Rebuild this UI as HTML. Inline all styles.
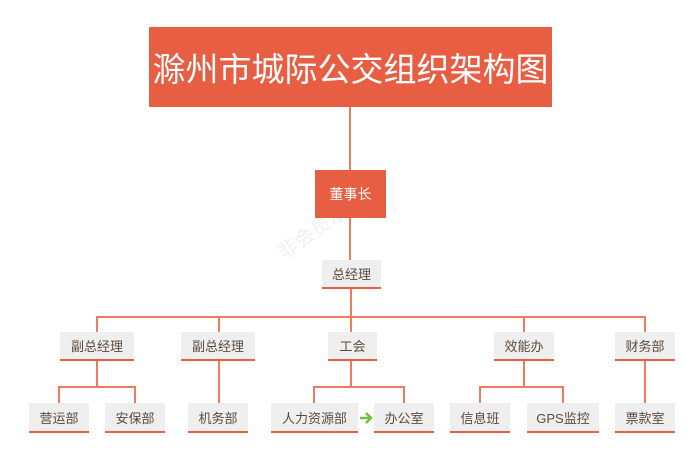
<!DOCTYPE html>
<html><head><meta charset="utf-8"><style>
body{margin:0;width:700px;height:459px;background:#fff;position:relative;overflow:hidden;font-family:"Liberation Sans","Noto Sans CJK SC",sans-serif}
.b{position:absolute;background:#efefef;border-bottom:2px solid #e8603f;color:#5a4a3c;font-size:13px;display:flex;align-items:center;justify-content:center;box-sizing:border-box}
.l{position:absolute;background:#f07a5c}
</style></head><body>
<div style="position:absolute;left:270px;top:210px;color:#f0f0f0;font-size:20px;transform:rotate(-35deg)">非会员水印</div>
<div style="position:absolute;left:149px;top:27px;width:403px;height:80px;background:#e85e42;color:#fff;font-size:33px;display:flex;align-items:center;justify-content:center">滁州市城际公交组织架构图</div>
<div class="l" style="left:349px;top:107px;width:2px;height:63px"></div>
<div style="position:absolute;left:315px;top:170px;width:71px;height:48px;background:#e85e42;color:#fff;font-size:14px;display:flex;align-items:center;justify-content:center">董事长</div>
<div class="l" style="left:349px;top:218px;width:2px;height:42px"></div>
<div class="b" style="left:322px;top:260px;width:59px;height:29px">总经理</div>
<div class="l" style="left:350px;top:289px;width:2px;height:28px"></div>
<div class="l" style="left:97px;top:316px;width:549px;height:2px"></div>
<div class="l" style="left:96px;top:316px;width:2px;height:16px"></div>
<div class="l" style="left:218px;top:316px;width:2px;height:16px"></div>
<div class="l" style="left:350px;top:316px;width:2px;height:16px"></div>
<div class="l" style="left:523px;top:316px;width:2px;height:16px"></div>
<div class="l" style="left:644px;top:316px;width:2px;height:16px"></div>
<div class="b" style="left:60px;top:332px;width:74px;height:29px">副总经理</div>
<div class="b" style="left:181px;top:332px;width:74px;height:29px">副总经理</div>
<div class="b" style="left:328px;top:332px;width:49px;height:29px">工会</div>
<div class="b" style="left:494px;top:332px;width:60px;height:29px">效能办</div>
<div class="b" style="left:615px;top:332px;width:60px;height:29px">财务部</div>
<div class="l" style="left:96px;top:361px;width:2px;height:26px"></div>
<div class="l" style="left:58px;top:386px;width:78px;height:2px"></div>
<div class="l" style="left:58px;top:386px;width:2px;height:17px"></div>
<div class="l" style="left:134px;top:386px;width:2px;height:17px"></div>
<div class="l" style="left:218px;top:361px;width:2px;height:42px"></div>
<div class="l" style="left:350px;top:361px;width:2px;height:26px"></div>
<div class="l" style="left:313px;top:386px;width:92px;height:2px"></div>
<div class="l" style="left:313px;top:386px;width:2px;height:17px"></div>
<div class="l" style="left:403px;top:386px;width:2px;height:17px"></div>
<div class="l" style="left:523px;top:361px;width:2px;height:26px"></div>
<div class="l" style="left:479px;top:386px;width:85px;height:2px"></div>
<div class="l" style="left:479px;top:386px;width:2px;height:17px"></div>
<div class="l" style="left:562px;top:386px;width:2px;height:17px"></div>
<div class="l" style="left:644px;top:361px;width:2px;height:42px"></div>
<div class="b" style="left:29px;top:403px;width:60px;height:30px">营运部</div>
<div class="b" style="left:105px;top:403px;width:60px;height:30px">安保部</div>
<div class="b" style="left:188px;top:403px;width:60px;height:30px">机务部</div>
<div class="b" style="left:271px;top:403px;width:87px;height:30px">人力资源部</div>
<div class="b" style="left:374px;top:403px;width:60px;height:30px">办公室</div>
<div class="b" style="left:450px;top:403px;width:60px;height:30px">信息班</div>
<div class="b" style="left:527px;top:403px;width:72px;height:30px">GPS监控</div>
<div class="b" style="left:615px;top:403px;width:60px;height:30px">票款室</div>
<svg style="position:absolute;left:358px;top:410px" width="16" height="16"><path d="M2 8H13M8 3L13 8L8 13" stroke="#6cc23a" stroke-width="2.5" fill="none"/></svg>
</body></html>
